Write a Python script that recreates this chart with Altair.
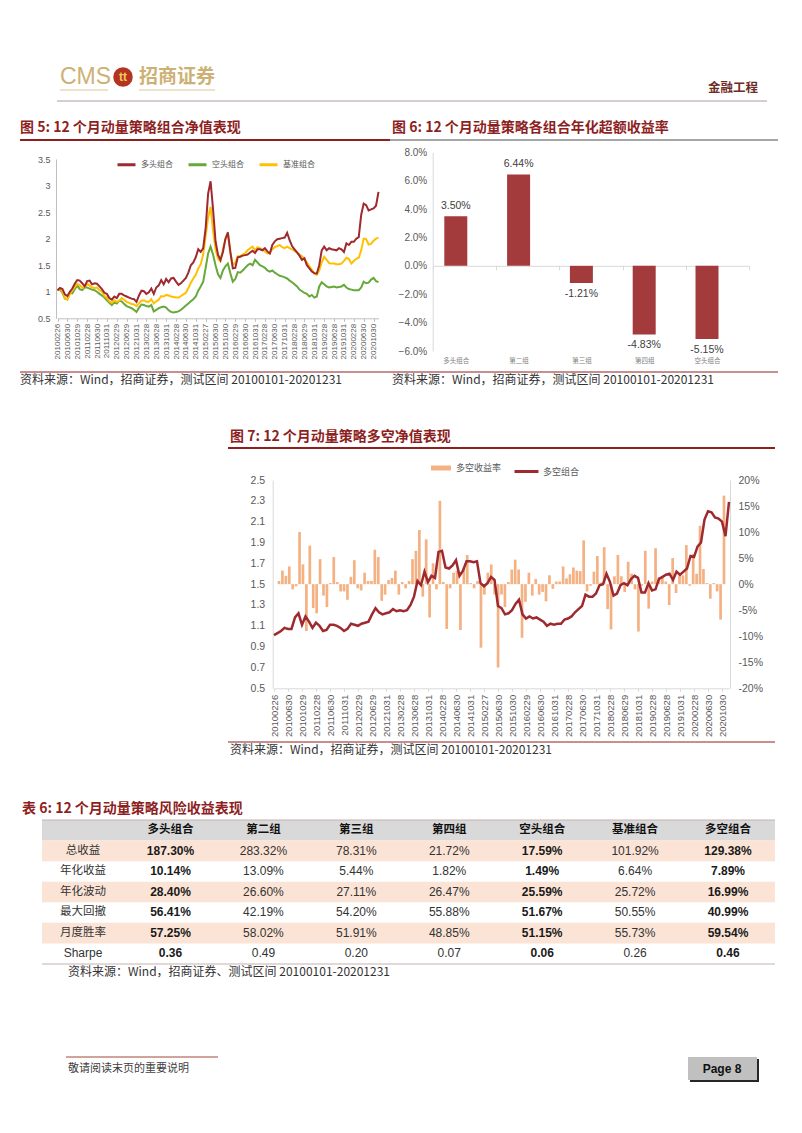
import altair as alt
import pandas as pd

# ---------------- data ----------------
date_labels = ['20100226', '20100630', '20101029', '20110228', '20110630', '20111031',
               '20120229', '20120629', '20121031', '20130228', '20130628', '20131031',
               '20140228', '20140630', '20141031', '20150227', '20150630', '20151030',
               '20160229', '20160630', '20161031', '20170228', '20170630', '20171031',
               '20180228', '20180629', '20181031', '20190228', '20190628', '20191031',
               '20200228', '20200630', '20201030']

long_nav = [1.03, 1.07, 1.05, 0.95, 0.92, 1.00, 1.06, 1.15, 1.22, 1.21,
            1.16, 1.10, 1.20, 1.21, 1.14, 1.16, 1.15, 1.10, 1.05, 0.98,
            0.96, 0.88, 0.85, 0.91, 0.88, 0.96, 0.96, 0.93, 0.91, 0.89,
            0.87, 0.86, 0.81, 0.93, 1.02, 1.01, 0.96, 0.99, 1.06, 0.96,
            1.08, 1.12, 1.22, 1.14, 1.24, 1.18, 1.25, 1.26, 1.19, 1.13,
            1.16, 1.21, 1.26, 1.36, 1.50, 1.55, 1.65, 1.80, 1.75, 1.82,
            2.20, 2.85, 3.08, 2.55, 1.95, 1.70, 1.60, 1.75, 2.00, 2.12,
            1.75, 1.44, 1.45, 1.65, 1.66, 1.68, 1.69, 1.70, 1.74, 1.77,
            1.73, 1.80, 1.80, 1.78, 1.82, 1.76, 1.72, 1.88, 1.95, 1.99,
            2.00, 2.01, 2.02, 2.11, 1.97, 1.86, 1.80, 1.74, 1.68, 1.60,
            1.63, 1.50, 1.44, 1.38, 1.35, 1.34, 1.50, 1.78, 1.85, 1.78,
            1.82, 1.80, 1.79, 1.78, 1.82, 1.80, 1.75, 1.91, 1.88, 1.94,
            1.94, 2.00, 2.03, 2.45, 2.66, 2.63, 2.53, 2.55, 2.57, 2.62, 2.88]

short_nav = [1.03, 1.04, 0.98, 0.87, 0.86, 0.98, 0.97, 1.05, 1.12, 1.05,
             1.03, 1.08, 1.08, 1.06, 1.04, 1.03, 1.00, 0.96, 0.93, 0.89,
             0.84, 0.79, 0.75, 0.80, 0.78, 0.83, 0.82, 0.77, 0.73, 0.71,
             0.69, 0.66, 0.62, 0.70, 0.76, 0.75, 0.73, 0.72, 0.75, 0.63,
             0.66, 0.69, 0.71, 0.72, 0.70, 0.65, 0.62, 0.61, 0.62, 0.63,
             0.66, 0.70, 0.74, 0.78, 0.82, 0.86, 0.91, 1.02, 1.10, 1.19,
             1.45, 1.72, 1.85, 1.70, 1.50, 1.33, 1.26, 1.40, 1.48, 1.53,
             1.35, 1.19, 1.24, 1.37, 1.36, 1.40, 1.45, 1.50, 1.53, 1.50,
             1.60, 1.55, 1.50, 1.48, 1.45, 1.40, 1.38, 1.40, 1.36, 1.33,
             1.30, 1.29, 1.27, 1.25, 1.21, 1.18, 1.14, 1.10, 1.04, 1.01,
             0.98, 0.96, 0.91, 0.94, 0.89, 0.91, 1.10, 1.18, 1.14, 1.10,
             1.08, 1.09, 1.10, 1.08, 1.09, 1.10, 1.13, 1.08, 1.05, 1.04,
             1.03, 1.03, 1.03, 1.08, 1.19, 1.16, 1.17, 1.23, 1.26, 1.20, 1.18]

bench_nav = [1.03, 1.06, 1.00, 0.88, 0.85, 0.96, 1.02, 1.09, 1.15, 1.12,
             1.08, 1.08, 1.15, 1.12, 1.08, 1.07, 1.08, 1.03, 1.00, 0.92,
             0.89, 0.82, 0.79, 0.84, 0.81, 0.83, 0.88, 0.85, 0.81, 0.79,
             0.77, 0.76, 0.73, 0.78, 0.83, 0.84, 0.81, 0.81, 0.86, 0.78,
             0.82, 0.85, 0.92, 0.91, 0.94, 0.93, 0.91, 0.90, 0.89, 0.89,
             0.92, 0.95, 0.98, 1.07, 1.17, 1.25, 1.32, 1.44, 1.52, 1.70,
             2.05, 2.40, 2.60, 2.15, 1.80, 1.62, 1.57, 1.80, 1.98, 2.08,
             1.75, 1.50, 1.55, 1.67, 1.67, 1.70, 1.73, 1.78, 1.82, 1.85,
             1.78, 1.84, 1.82, 1.80, 1.76, 1.72, 1.73, 1.80, 1.84, 1.86,
             1.88, 1.84, 1.82, 1.85, 1.82, 1.80, 1.77, 1.74, 1.70, 1.67,
             1.62, 1.55, 1.48, 1.42, 1.34, 1.32, 1.40, 1.55, 1.66, 1.60,
             1.54, 1.53, 1.53, 1.52, 1.52, 1.53, 1.58, 1.64, 1.62, 1.53,
             1.58, 1.62, 1.64, 1.78, 2.00, 1.99, 1.89, 1.90, 1.96, 2.00, 2.02]

fig6_groups = ['多头组合', '第二组', '第三组', '第四组', '空头组合']
fig6_excess = [3.50, 6.44, -1.21, -4.83, -5.15]

ls_ret = [0.6, 2.6, 1.6, 3.4, -1.0, -0.4, 10.0, 3.8, -9.0, 7.4,
          -4.6, -5.6, 4.8, -2.2, -4.4, 0.2, 5.2, 0.4, -1.4, -1.4,
          -3.0, 1.4, 4.6, -0.8, -1.2, 2.2, 0.6, 0.6, 6.6, 5.2,
          -3.2, -2.0, 0.8, 1.2, 2.6, -2.0, 0.4, -0.8, 0.6, 4.8,
          6.4, 10.4, -2.4, 8.6, -6.4, 4.0, -1.0, 16.0, 0.4, -8.6,
          -0.8, 2.2, 2.6, -8.8, 3.2, 5.6, 0.2, -0.8, 0.6, -12.2,
          -2.0, 2.2, 3.8, -2.0, -16.0, -2.0, -4.4, 0.4, 2.8, 4.7,
          2.8, -10.3, -3.4, 2.2, -2.2, 1.0, -2.0, -1.5, -3.3, 1.7,
          -0.9, 0.5, 0.5, 3.4, 1.1, 1.9, 3.2, 2.6, 2.5, 8.4,
          -1.4, -0.3, 2.4, 5.4, 0.3, 7.1, -4.8, -8.7, 1.5, 5.6,
          1.5, -1.5, 4.3, 2.0, -1.0, -9.1, -0.3, 6.4, -4.7, 0.5,
          6.9, 1.3, 1.3, 0.5, -4.0, 5.0, -1.7, 1.7, 1.7, 7.5,
          -0.3, 5.8, 2.0, 11.2, 2.9, 0.2, -2.8, 0.2, -1.4, -6.8, 17.0]

ls_nav = [1.01, 1.03, 1.05, 1.08, 1.07, 1.07, 1.18, 1.22, 1.11, 1.19,
          1.14, 1.08, 1.13, 1.10, 1.05, 1.06, 1.11, 1.11, 1.10, 1.08,
          1.05, 1.07, 1.12, 1.11, 1.10, 1.12, 1.13, 1.14, 1.21, 1.27,
          1.23, 1.21, 1.22, 1.23, 1.26, 1.24, 1.25, 1.24, 1.25, 1.30,
          1.38, 1.53, 1.49, 1.62, 1.52, 1.58, 1.56, 1.81, 1.82, 1.66,
          1.65, 1.68, 1.73, 1.58, 1.63, 1.72, 1.72, 1.71, 1.72, 1.51,
          1.48, 1.51, 1.57, 1.54, 1.29, 1.27, 1.21, 1.22, 1.25, 1.31,
          1.35, 1.21, 1.17, 1.19, 1.17, 1.18, 1.16, 1.14, 1.10, 1.12,
          1.11, 1.12, 1.12, 1.16, 1.17, 1.19, 1.23, 1.26, 1.29, 1.40,
          1.38, 1.38, 1.41, 1.49, 1.50, 1.60, 1.52, 1.39, 1.41, 1.49,
          1.51, 1.49, 1.55, 1.58, 1.56, 1.42, 1.42, 1.51, 1.44, 1.45,
          1.55, 1.57, 1.59, 1.60, 1.54, 1.62, 1.59, 1.62, 1.65, 1.77,
          1.76, 1.86, 1.90, 2.12, 2.20, 2.19, 2.14, 2.13, 2.10, 1.96, 2.29]

tbl_cols = ['多头组合', '第二组', '第三组', '第四组', '空头组合', '基准组合', '多空组合']
tbl_bold_cols = ['多头组合', '空头组合', '多空组合']
tbl_rows = ['总收益', '年化收益', '年化波动', '最大回撤', '月度胜率', 'Sharpe']
row_total = ['187.30%', '283.32%', '78.31%', '21.72%', '17.59%', '101.92%', '129.38%']
row_ann_ret = ['10.14%', '13.09%', '5.44%', '1.82%', '1.49%', '6.64%', '7.89%']
row_ann_vol = ['28.40%', '26.60%', '27.11%', '26.47%', '25.59%', '25.72%', '16.99%']
row_mdd = ['56.41%', '42.19%', '54.20%', '55.88%', '51.67%', '50.55%', '40.99%']
row_win = ['57.25%', '58.02%', '51.91%', '48.85%', '51.15%', '55.73%', '59.54%']
row_sharpe = ['0.36', '0.49', '0.20', '0.07', '0.06', '0.26', '0.46']

# ---------------- layout helpers ----------------
W, H = 786, 1117
CN = 'Noto Sans CJK SC'
EN = 'Liberation Sans'
RED = '#9E2A2F'
TITLE_RED = '#8E1F1F'
GRAY_TXT = '#595959'


def P(v):
    return v - 8


def one():
    return pd.DataFrame({'k': [0]})


def text(s, x, y, size, color, weight='normal', align='left', font=CN):
    return alt.Chart(pd.DataFrame({'t': [s]})).mark_text(
        align=align, baseline='middle', fontSize=size, font=font,
        fontWeight=weight, color=color
    ).encode(x=alt.value(P(x)), y=alt.value(P(y)), text='t:N')


def hrule(x1, x2, y, color, w=1.0):
    return alt.Chart(one()).mark_rule(color=color, strokeWidth=w).encode(
        x=alt.value(P(x1)), x2=alt.value(P(x2)), y=alt.value(P(y)))


def box(x1, x2, y1, y2, color):
    return alt.Chart(one()).mark_rect(color=color).encode(
        x=alt.value(P(x1)), x2=alt.value(P(x2)),
        y=alt.value(P(y1)), y2=alt.value(P(y2)))


def src_text(x, y, s='资料来源：Wind，招商证券，测试区间 20100101-20201231'):
    return text(s, x, y, 12, '#333333')


date_expr = '[' + ','.join("'%s'" % d for d in date_labels) + '][round(datum.value/4)]'
idx = list(range(len(long_nav)))
layers = []

# ---------------- page header ----------------
layers += [
    text('CMS', 60, 77, 23, '#CDB174', font=EN),
    alt.Chart(one()).mark_circle(size=380, color='#B3341F', opacity=1).encode(
        x=alt.value(P(123)), y=alt.value(P(77))),
    text('tt', 123, 77, 12, '#F4C95D', weight='bold', align='center', font=EN),
    text('招商证券', 139, 77, 19, '#CDB174', weight='bold'),
    hrule(60, 108, 90, '#D9C79E', 1),
    hrule(139, 215, 90, '#D9C79E', 1),
    text('金融工程', 758, 88, 12.5, '#6E2B24', weight='bold', align='right'),
    hrule(57, 767, 101, '#B39A9A', 1),
]

# ---------------- section titles ----------------
layers += [
    text('图 5: 12 个月动量策略组合净值表现', 20, 128, 14, TITLE_RED, weight='bold'),
    text('图 6: 12 个月动量策略各组合年化超额收益率', 392, 128, 14, TITLE_RED, weight='bold'),
    hrule(20, 390, 140, TITLE_RED, 2),
    hrule(390, 778, 140, '#A6A6A6', 2),
    hrule(20, 778, 372, TITLE_RED, 1),
    src_text(20, 380),
    src_text(392, 380),
    text('图 7: 12 个月动量策略多空净值表现', 230, 437, 14, TITLE_RED, weight='bold'),
    hrule(228, 775, 448, TITLE_RED, 2),
    hrule(228, 775, 742, TITLE_RED, 1),
    src_text(230, 750),
]

# ---------------- figure 5 ----------------
df5 = pd.DataFrame({
    'i': idx * 3,
    'v': short_nav + bench_nav + long_nav,
    's': ['空头组合'] * len(idx) + ['基准组合'] * len(idx) + ['多头组合'] * len(idx),
})
fig5 = alt.Chart(df5).mark_line(strokeWidth=2).encode(
    x=alt.X('i:Q', scale=alt.Scale(domain=[0, 130], range=[P(57.5), P(378.5)], nice=False),
            axis=alt.Axis(orient='bottom', offset=P(318.3) - H, values=list(range(0, 129, 4)),
                          labelExpr=date_expr, labelAngle=-90, labelFontSize=8, labelFont=EN,
                          labelColor=GRAY_TXT, labelPadding=2, tickSize=3, tickColor='#BFBFBF',
                          domainColor='#BFBFBF', grid=False, title=None)),
    y=alt.Y('v:Q', scale=alt.Scale(domain=[0.5, 3.5], range=[P(318.3), P(159)], nice=False),
            axis=alt.Axis(orient='left', offset=-P(56), values=[0.5, 1, 1.5, 2, 2.5, 3, 3.5],
                          format='~g', labelFontSize=9, labelFont=EN, labelColor=GRAY_TXT,
                          ticks=False, labelPadding=6, domainColor='#BFBFBF', grid=False,
                          title=None)),
    color=alt.Color('s:N', scale=alt.Scale(domain=['多头组合', '空头组合', '基准组合'],
                                           range=[RED, '#67A83A', '#FFC000']),
                    legend=alt.Legend(orient='none', legendX=P(116), legendY=P(154),
                                      direction='horizontal', title=None, symbolType='stroke',
                                      symbolStrokeWidth=3, symbolSize=324, labelFont=CN,
                                      labelFontSize=8, labelColor=GRAY_TXT, labelOffset=4,
                                      columnPadding=9, padding=0)),
    detail='s:N',
)
layers.append(fig5)

# ---------------- figure 6 ----------------
df6 = pd.DataFrame({'g': fig6_groups, 'v': fig6_excess,
                    'lab': ['%.2f%%' % v for v in fig6_excess]})
xs6 = alt.Scale(type='point', domain=fig6_groups, range=[P(455.8), P(707)], padding=0)
ys6 = alt.Scale(domain=[-6, 8], range=[P(351), P(152.3)], nice=False)

axis6_line = alt.Chart(df6).mark_point(opacity=0).encode(
    x=alt.X('g:N', sort=fig6_groups,
            scale=alt.Scale(type='band', domain=fig6_groups, range=[P(433), P(749)],
                            paddingInner=0, paddingOuter=0),
            axis=alt.Axis(orient='bottom', offset=P(265.8) - H, labels=False, ticks=True,
                          tickBand='extent', tickSize=4, tickColor='#D9D9D9',
                          domainColor='#D9D9D9', grid=False, title=None)),
    y=alt.value(0),
)
bars6 = alt.Chart(df6).mark_bar(width=23, color='#A33B3C').encode(
    x=alt.X('g:N', sort=fig6_groups, scale=xs6,
            axis=alt.Axis(orient='bottom', offset=P(351) - H, domain=False, ticks=False,
                          labelPadding=6, labelFontSize=6.5, labelFont=CN, labelColor='#7F7F7F',
                          labelAngle=0, grid=False, title=None)),
    y=alt.Y('v:Q', scale=ys6,
            axis=alt.Axis(orient='left', offset=-P(432.7), values=[-6, -4, -2, 0, 2, 4, 6, 8],
                          labelExpr="format(datum.value, '.1f') + '%'", labelFontSize=10,
                          labelFont=EN, labelColor=GRAY_TXT, ticks=False, labelPadding=6,
                          domainColor='#D9D9D9', grid=False, title=None)),
)
lab6_pos = alt.Chart(df6).transform_filter('datum.v >= 0').mark_text(
    dy=-10, fontSize=10.5, font=EN, color='#404040').encode(
    x=alt.X('g:N', sort=fig6_groups, scale=xs6, axis=None),
    y=alt.Y('v:Q', scale=ys6, axis=None), text='lab:N')
lab6_neg = alt.Chart(df6).transform_filter('datum.v < 0').mark_text(
    dy=11, fontSize=10.5, font=EN, color='#404040').encode(
    x=alt.X('g:N', sort=fig6_groups, scale=xs6, axis=None),
    y=alt.Y('v:Q', scale=ys6, axis=None), text='lab:N')
layers += [axis6_line, bars6, lab6_pos, lab6_neg]

# ---------------- figure 7 ----------------
df7 = pd.DataFrame({'i': idx, 'r': ls_ret, 'v': ls_nav,
                    'k': ['多空收益率'] * len(idx), 'k2': ['多空组合'] * len(idx)})
xs7 = alt.Scale(domain=[0, 130], range=[P(274), P(729)], nice=False)
bars7 = alt.Chart(df7).mark_bar(width=2.7).encode(
    x=alt.X('i:Q', scale=xs7, axis=None),
    y=alt.Y('r:Q', scale=alt.Scale(domain=[-20, 20], range=[P(688.3), P(480)], nice=False),
            axis=alt.Axis(orient='right', offset=P(730) - W,
                          values=[-20, -15, -10, -5, 0, 5, 10, 15, 20],
                          labelExpr="datum.value + '%'", labelFontSize=10.5, labelFont=EN,
                          labelColor=GRAY_TXT, ticks=False, labelPadding=8,
                          domainColor='#D9D9D9', grid=False, title=None)),
    color=alt.Color('k:N', scale=alt.Scale(domain=['多空收益率'], range=['#F4B183']),
                    legend=alt.Legend(orient='none', legendX=P(431), legendY=P(458),
                                      title=None, symbolType='M-1,-0.25H1V0.25H-1Z',
                                      symbolSize=400, symbolStrokeWidth=0, labelFont=CN,
                                      labelFontSize=9, labelColor=GRAY_TXT, labelOffset=5,
                                      padding=0)),
)
line7 = alt.Chart(df7).mark_line(strokeWidth=2.5).encode(
    x=alt.X('i:Q', scale=xs7,
            axis=alt.Axis(orient='bottom', offset=P(688.3) - H, values=list(range(0, 129, 4)),
                          labelExpr=date_expr, labelAngle=-90, labelFontSize=9.5, labelFont=EN,
                          labelColor=GRAY_TXT, labelPadding=3, tickSize=3, tickColor='#D9D9D9',
                          domainColor='#D9D9D9', grid=False, title=None)),
    y=alt.Y('v:Q', scale=alt.Scale(domain=[0.5, 2.5], range=[P(688.3), P(480)], nice=False),
            axis=alt.Axis(orient='left', offset=-P(272.7),
                          values=[0.5, 0.7, 0.9, 1.1, 1.3, 1.5, 1.7, 1.9, 2.1, 2.3, 2.5],
                          format='.1f', labelFontSize=10.5, labelFont=EN, labelColor=GRAY_TXT,
                          ticks=False, labelPadding=8, domainColor='#D9D9D9', grid=False,
                          title=None)),
    color=alt.Color('k2:N', scale=alt.Scale(domain=['多空组合'], range=[RED]),
                    legend=alt.Legend(orient='none', legendX=P(513), legendY=P(458),
                                      title=None, symbolType='stroke', symbolSize=576,
                                      symbolStrokeWidth=3, labelFont=CN, labelFontSize=9,
                                      labelColor=GRAY_TXT, labelOffset=3, padding=0)),
)
layers += [bars7, line7]

# ---------------- table 6 ----------------
TL = 42
row_domain = ['hdr'] + tbl_rows
yband = alt.Scale(type='band', domain=row_domain, range=[P(820), P(964)],
                  paddingInner=0, paddingOuter=0)
ypt = alt.Scale(type='point', domain=row_domain, range=[P(830), P(953.3)], padding=0)
xcol = alt.Scale(type='point', domain=tbl_cols, range=[P(170.5), P(728)], padding=0)
xlab = alt.Scale(type='point', domain=['label'], range=[P(60), P(106)], padding=0.5)

df_bg = pd.DataFrame({'row': row_domain,
                      'kind': ['h', 'p', 'w', 'p', 'w', 'p', 'w']})
bg_hdr = alt.Chart(df_bg).transform_filter("datum.kind == 'h'").mark_rect(color='#D9D9D9').encode(
    y=alt.Y('row:N', scale=yband, axis=None), x=alt.value(P(TL)), x2=alt.value(P(775)))
bg_peach = alt.Chart(df_bg).transform_filter("datum.kind == 'p'").mark_rect(color='#FBE4D5').encode(
    y=alt.Y('row:N', scale=yband, axis=None), x=alt.value(P(TL)), x2=alt.value(P(775)))

cells = []
for rname, vals in zip(tbl_rows, [row_total, row_ann_ret, row_ann_vol, row_mdd, row_win, row_sharpe]):
    for c, v in zip(tbl_cols, vals):
        cells.append({'row': rname, 'col': c, 't': v, 'b': c in tbl_bold_cols})
df_cells = pd.DataFrame(cells)
df_hdr = pd.DataFrame({'row': ['hdr'] * len(tbl_cols), 'col': tbl_cols, 't': tbl_cols})
df_rowlab = pd.DataFrame({'row': tbl_rows, 'col': ['label'] * len(tbl_rows), 't': tbl_rows})

hdr_txt = alt.Chart(df_hdr).mark_text(font=CN, fontSize=11.5, fontWeight='bold', color='#111111').encode(
    x=alt.X('col:N', scale=xcol, axis=None), y=alt.Y('row:N', scale=ypt, axis=None), text='t:N')
val_bold = alt.Chart(df_cells).transform_filter('datum.b').mark_text(
    font=EN, fontSize=12, fontWeight='bold', color='#1A1A1A').encode(
    x=alt.X('col:N', scale=xcol, axis=None), y=alt.Y('row:N', scale=ypt, axis=None), text='t:N')
val_norm = alt.Chart(df_cells).transform_filter('!datum.b').mark_text(
    font=EN, fontSize=12, color='#333333').encode(
    x=alt.X('col:N', scale=xcol, axis=None), y=alt.Y('row:N', scale=ypt, axis=None), text='t:N')
rowlab_cn = alt.Chart(df_rowlab).transform_filter("datum.t != 'Sharpe'").mark_text(
    font=CN, fontSize=11.5, color='#333333').encode(
    x=alt.X('col:N', scale=xlab, axis=None), y=alt.Y('row:N', scale=ypt, axis=None), text='t:N')
rowlab_en = alt.Chart(df_rowlab).transform_filter("datum.t == 'Sharpe'").mark_text(
    font=EN, fontSize=12, color='#333333').encode(
    x=alt.X('col:N', scale=xlab, axis=None), y=alt.Y('row:N', scale=ypt, axis=None), text='t:N')

layers += [
    text('表 6: 12 个月动量策略风险收益表现', 22, 809, 14, TITLE_RED, weight='bold'),
    bg_hdr, bg_peach,
    hrule(TL, 775, 820, '#C9B0B0', 1.2),
    hrule(TL, 775, 964, '#C9B0B0', 1.2),
    hdr_txt, val_bold, val_norm, rowlab_cn, rowlab_en,
    src_text(68, 972, '资料来源：Wind，招商证券、测试区间 20100101-20201231'),
]

# ---------------- footer ----------------
layers += [
    hrule(66, 218, 1057, '#A0463A', 1),
    text('敬请阅读末页的重要说明', 68, 1069, 11, '#404040'),
    box(690, 759, 1059, 1082, '#262626'),
    box(688, 757, 1057, 1080, '#C0C0C0'),
    text('Page  8', 722, 1069, 12, '#111111', weight='bold', align='center', font=EN),
]

chart = alt.layer(*layers).resolve_scale(
    x='independent', y='independent', color='independent'
).properties(
    width=W, height=H, padding=0,
    autosize=alt.AutoSizeParams(type='none'),
    background='white',
).configure_view(stroke=None)

chart.save('out.html', embed_options={'renderer': 'svg', 'actions': False})
